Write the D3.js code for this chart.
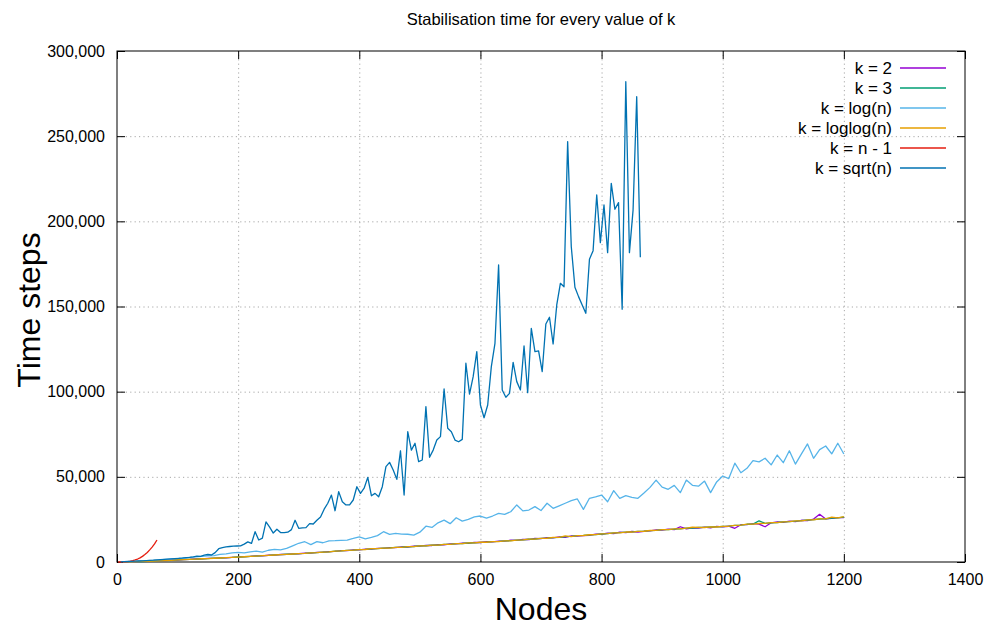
<!DOCTYPE html>
<html>
<head>
<meta charset="utf-8">
<script src="https://cdn.jsdelivr.net/npm/d3@7"></script>
<style>
  body { margin: 0; background: #fff; }
  text { font-family: "Liberation Sans", Arial, sans-serif; fill: #000; }
  .grid line { stroke: #a8a8a8; stroke-dasharray: 1.2,3.2; }
  .axis path { display: none; }
  .axis line { stroke: #000; }
  .axis text { font-size: 16px; }
</style>
</head>
<body>
<div id="chart"></div>
<script>
/* stabilisation time per number of nodes, one series per value of k */

var xTicks = [0, 200, 400, 600, 800, 1000, 1200, 1400];
var yTicks = [0, 50000, 100000, 150000, 200000, 250000, 300000];

var seriesNames = ["k = 2", "k = 3", "k = log(n)", "k = loglog(n)", "k = n - 1", "k = sqrt(n)"];
var seriesColors = ["#9400d3", "#009e73", "#56b4e9", "#e69f00", "#e51e10", "#0072b2"];

// node counts for the runs
var nodesStep10 = d3.range(10, 1201, 10);
var nodesSqrt = d3.range(6, 865, 6);
var nodesFull = [2, 6, 10, 14, 18, 22, 26, 30, 34, 38, 42, 46, 50, 54, 58, 62, 66];

var k2 = [50, 130, 190, 310, 400, 560, 700, 830, 1050, 1180,
  1400, 1530, 1750, 1880, 2100, 2180, 2400, 2470, 2750, 2880,
  3150, 3250, 3550, 3650, 3950, 4050, 4400, 4450, 4800, 4850,
  5200, 5250, 5650, 5750, 6150, 6200, 6700, 6700, 7100, 7150,
  7600, 7600, 8050, 8000, 8450, 8450, 8850, 8800, 9300, 9350,
  9800, 9700, 10150, 10100, 10650, 10600, 11100, 11000, 11500, 11450,
  11900, 11800, 12300, 12200, 12800, 12700, 13300, 13200, 13800, 13700,
  14300, 14200, 14700, 14500, 15300, 15200, 15500, 15600, 16400, 16300,
  16900, 16700, 17500, 17300, 17900, 17600, 18000, 18300, 18900, 18700,
  19300, 19000, 20700, 19400, 20100, 19900, 20500, 20100, 20900, 20600,
  21000, 19800, 21900, 21900, 22500, 22200, 20700, 23000, 23600, 23300,
  24000, 23700, 24500, 24300, 25200, 28000, 25300, 25600, 26000, 26100];

var k3 = [60, 110, 210, 290, 430, 540, 700, 860, 1000, 1220,
  1350, 1570, 1700, 1920, 2030, 2230, 2330, 2530, 2680, 2930,
  3080, 3330, 3480, 3730, 3880, 4130, 4280, 4550, 4680, 4950,
  5080, 5350, 5500, 5850, 6000, 6350, 6500, 6850, 6950, 7250,
  7400, 7750, 7850, 8150, 8250, 8550, 8650, 8950, 9100, 9450,
  9550, 9850, 9950, 10300, 10400, 10750, 10850, 11150, 11250, 11550,
  11650, 11950, 12050, 12400, 12500, 12850, 13000, 13350, 13500, 13850,
  14000, 14350, 14500, 14850, 15050, 15450, 15600, 15950, 16100, 16450,
  16650, 17050, 17200, 17550, 17650, 17950, 18100, 18450, 18600, 18950,
  19050, 19350, 19500, 19850, 19950, 20250, 20300, 20550, 20600, 20850,
  21050, 21450, 21700, 22150, 22250, 24200, 22700, 23050, 23200, 23550,
  23700, 24050, 24250, 24650, 24850, 25250, 25400, 25750, 25900, 26300];

var kLog = [100, 250, 400, 600, 800, 1000, 1200, 1500, 1800, 2100,
  2400, 2700, 3000, 3300, 3600, 3800, 4500, 4800, 5300, 5600,
  5400, 6000, 6400, 5800, 6900, 7400, 7100, 8000, 9500, 11000,
  11900, 10200, 12000, 11300, 12400, 12500, 12700, 12900, 13800, 14800,
  13600, 14500, 15500, 17800, 16200, 16800, 16400, 16300, 15800, 17500,
  21000, 20300, 23000, 24600, 22500, 26000, 24000, 25000, 26500, 27000,
  25800, 27000, 28500, 28000, 29500, 33500, 30000, 30500, 32500, 30200,
  34500, 31500, 33000, 34500, 36000, 37000, 30900, 37400, 38200, 39300,
  35400, 41900, 37400, 39000, 38000, 37400, 40500, 43800, 48100, 44000,
  42700, 45000, 40700, 48100, 45000, 44500, 47500, 40700, 47000, 50500,
  49000, 58000, 52400, 55000, 59500, 58800, 60900, 57000, 62800, 58300,
  65300, 57500, 63500, 69300, 60900, 66000, 68100, 63500, 69700, 63400];

var kLogLog = [40, 120, 200, 320, 410, 560, 680, 860, 1010, 1210,
  1360, 1560, 1710, 1910, 2040, 2210, 2340, 2510, 2690, 2910,
  3090, 3310, 3490, 3710, 3890, 4110, 4290, 4510, 4690, 4910,
  5050, 5350, 5500, 5850, 6000, 6350, 6500, 6850, 6950, 7300,
  7350, 7800, 7800, 8200, 8200, 8600, 8600, 9000, 9050, 9500,
  9500, 9900, 9900, 10350, 10350, 10800, 10800, 11200, 11200, 11600,
  11600, 12000, 12000, 12450, 12450, 12900, 12950, 13400, 13450, 13900,
  13950, 14400, 14450, 15300, 14950, 15500, 15550, 16000, 16050, 16500,
  16600, 17100, 17150, 17600, 17600, 18000, 18050, 18500, 18550, 19000,
  19000, 19400, 19450, 19900, 20400, 20300, 20250, 20600, 20550, 20900,
  21000, 21500, 21600, 22200, 22200, 22600, 22650, 23100, 23100, 23600,
  23650, 24100, 24200, 24700, 24800, 25300, 25350, 26300, 25850, 26700];

var kFull = [0, 10, 40, 120, 260, 480, 800, 1200, 1750, 2450,
  3300, 4400, 5600, 7100, 8700, 10600, 12900];

var kSqrt = [100, 200, 300, 400, 500, 600, 700, 850, 1000, 1100,
  1250, 1400, 1550, 1700, 1850, 2000, 2100, 2250, 2500, 2700,
  3000, 3400, 3300, 4000, 4400, 4100, 5500, 7800, 8500, 8900,
  9100, 9300, 9400, 9500, 10500, 11800, 10900, 17800, 12900, 14000,
  23500, 20500, 17000, 19200, 17300, 17200, 17500, 19000, 24500, 19800,
  20000, 20200, 22500, 22300, 24500, 26400, 31000, 34500, 39300, 30100,
  41300, 35400, 33500, 33500, 36400, 44200, 40300, 43300, 49700, 38900,
  40300, 38300, 44200, 56000, 58500, 54000, 48500, 65300, 39300, 76500,
  65700, 69700, 58900, 59900, 91200, 61500, 65700, 71600, 73600, 101600,
  78500, 76500, 71600, 70600, 72000, 116700, 98600, 108800, 123500, 92200,
  84700, 92200, 114700, 128400, 174400, 101000, 96700, 99000, 117200, 105900,
  101000, 126800, 99400, 137200, 123500, 123900, 111800, 139700, 143700, 128000,
  150900, 163600, 161600, 246800, 185100, 161300, 155800, 150900, 146000, 177700,
  182800, 215500, 187500, 209600, 181600, 222300, 207100, 211000, 148400, 282000,
  181600, 206600, 273200, 178900];

var seriesNodes = [nodesStep10, nodesStep10, nodesStep10, nodesStep10, nodesFull, nodesSqrt];
var seriesValues = [k2, k3, kLog, kLogLog, kFull, kSqrt];

var margin = {top: 51, right: 30, bottom: 64, left: 117},
    width = 995 - margin.left - margin.right,
    height = 626 - margin.top - margin.bottom;

var svg = d3.select("#chart")
            .append("svg")
            .attr("width", 995)
            .attr("height", 626);

var g = svg.append("g")
           .attr("transform", "translate(" + margin.left + "," + margin.top + ")");

var x = d3.scaleLinear().domain([0, 1400]).range([0, width]);
var y = d3.scaleLinear().domain([0, 300000]).range([height, 0]);

// dotted grid
g.append("g")
 .attr("class", "grid")
 .attr("transform", "translate(0," + height + ")")
 .call(d3.axisBottom(x).tickValues(xTicks.slice(1, -1)).tickSize(-height).tickFormat(""));
g.append("g")
 .attr("class", "grid")
 .call(d3.axisLeft(y).tickValues(yTicks.slice(1, -1)).tickSize(-width).tickFormat(""));
g.selectAll(".grid path").remove();

// axes, ticks point inward and are mirrored
var xAxis = d3.axisBottom(x).tickValues(xTicks).tickSizeInner(-8).tickSizeOuter(0).tickPadding(12)
              .tickFormat(d3.format("d"));
var yAxis = d3.axisLeft(y).tickValues(yTicks).tickSizeInner(-8).tickSizeOuter(0).tickPadding(12)
              .tickFormat(d3.format(","));

g.append("g").attr("class", "axis")
 .attr("transform", "translate(0," + height + ")")
 .call(xAxis);
g.append("g").attr("class", "axis")
 .call(yAxis);
g.append("g").attr("class", "axis")
 .call(d3.axisTop(x).tickValues(xTicks).tickSizeInner(-8).tickSizeOuter(0).tickFormat(""));
g.append("g").attr("class", "axis")
 .attr("transform", "translate(" + width + ",0)")
 .call(d3.axisRight(y).tickValues(yTicks).tickSizeInner(-8).tickSizeOuter(0).tickFormat(""));

g.append("rect")
 .attr("width", width)
 .attr("height", height)
 .style("fill", "none")
 .style("stroke", "#000")
 .style("stroke-width", 1);

// series lines
var line = d3.line()
             .x(function(d) { return x(d[0]); })
             .y(function(d) { return y(d[1]); });

seriesNames.forEach(function(name, i) {
	var pts = seriesNodes[i].map(function(n, j) { return [n, seriesValues[i][j]]; });
	g.append("path")
	 .datum(pts)
	 .attr("class", "series")
	 .attr("d", line)
	 .style("fill", "none")
	 .style("stroke", seriesColors[i])
	 .style("stroke-width", 1.3)
	 .style("stroke-linejoin", "round");
});

// legend
var legend = svg.append("g").attr("class", "legend");
seriesNames.forEach(function(name, i) {
	var ly = 68 + i * 20;
	legend.append("text")
	      .attr("x", 892)
	      .attr("y", ly)
	      .attr("dy", "0.35em")
	      .style("text-anchor", "end")
	      .style("font-size", "17px")
	      .text(name);
	legend.append("line")
	      .attr("x1", 900)
	      .attr("x2", 946)
	      .attr("y1", ly)
	      .attr("y2", ly)
	      .style("stroke", seriesColors[i])
	      .style("stroke-width", 1.3);
});

// titles
svg.append("text")
   .attr("x", 541)
   .attr("y", 25)
   .style("text-anchor", "middle")
   .style("font-size", "16.5px")
   .text("Stabilisation time for every value of k");

svg.append("text")
   .attr("x", 541)
   .attr("y", 620)
   .style("text-anchor", "middle")
   .style("font-size", "32px")
   .text("Nodes");

svg.append("text")
   .attr("transform", "translate(40,310) rotate(-90)")
   .style("text-anchor", "middle")
   .style("font-size", "32px")
   .text("Time steps");
</script>
</body>
</html>
